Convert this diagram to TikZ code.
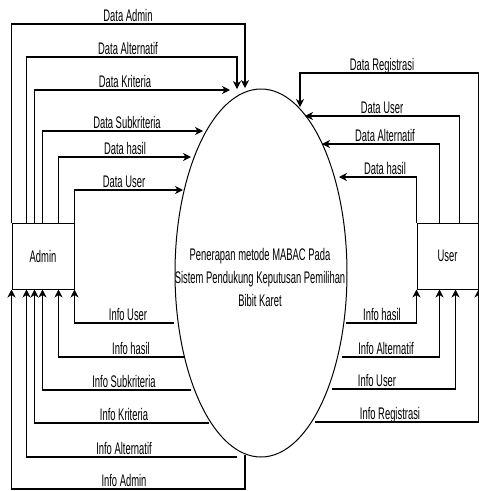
\documentclass[tikz,border=0pt]{standalone}
\usepackage{fontspec}
\setmainfont{Liberation Sans}[FakeStretch=0.56]
\usetikzlibrary{arrows.meta,shapes.geometric}
\begin{document}
\begin{tikzpicture}[x=1pt,y=-1pt,
  box/.style={draw, line width=1pt, minimum width=62pt, minimum height=66pt, inner sep=0pt, font=\fontsize{16.8}{20}\selectfont},
  proc/.style={draw, ellipse, line width=1pt, minimum width=172pt, minimum height=368pt, inner sep=0pt},
  flow/.style={draw, line width=1.1pt, -{Stealth[length=8pt,width=8pt,inset=2.5pt]}},
  lbl/.style={anchor=base, inner sep=0pt, font=\fontsize{16.8}{20}\selectfont}]
\useasboundingbox (0,0) rectangle (479,491);
\node[box] (admin) at (43,256) {Admin};
\node[box, minimum width=61pt] (user) at (447.5,256) {User};
\node[proc] (proc) at (261,273) {};
\node[align=center, inner sep=0pt, font=\fontsize{16.8}{23}\selectfont] (proctext) at (260,277)
  {Penerapan metode MABAC Pada\\Sistem Pendukung Keputusan Pemilihan\\Bibit Karet};
% Admin -> process
\draw[flow] (admin.north west) |- (245,24) -- (245,88);
\draw[flow] ([xshift=15pt]admin.north west) |- (237,57) -- (237,89);
\draw[flow] ([xshift=23pt]admin.north west) |- (230,90);
\draw[flow] ([xshift=31pt]admin.north west) |- (203,131);
\draw[flow] ([xshift=47pt]admin.north west) |- (191,157);
\draw[flow] (admin.north east) |- (183,190);
\node[lbl] (l1) at (128,21) {Data Admin};
\node[lbl] (l2) at (128,54) {Data Alternatif};
\node[lbl] (l3) at (125,87) {Data Kriteria};
\node[lbl] (l4) at (127,128) {Data Subkriteria};
\node[lbl] (l5) at (125,154) {Data hasil};
\node[lbl] (l6) at (124,187) {Data User};
% User -> process
\draw[flow] (user.north east) |- (300,73) -- (300,107);
\draw[flow] ([xshift=-19pt]user.north east) |- (305,116);
\draw[flow] ([xshift=23pt]user.north west) |- (322,144);
\draw[flow] (user.north west) |- (339,177);
\node[lbl] (r1) at (382,70) {Data Registrasi};
\node[lbl] (r2) at (382,113) {Data User};
\node[lbl] (r3) at (385,141) {Data Alternatif};
\node[lbl] (r4) at (385,174) {Data hasil};
% process -> Admin
\draw[flow] (174,323) -| (admin.south east);
\draw[flow] (184,357) -| ([xshift=47pt]admin.south west);
\draw[flow] (191,390) -| ([xshift=31pt]admin.south west);
\draw[flow] (209,423) -| ([xshift=23pt]admin.south west);
\draw[flow] (237,457) -| ([xshift=15pt]admin.south west);
\draw[flow] (245,455) -- (245,489) -| (admin.south west);
\node[lbl] (i1) at (128,320) {Info User};
\node[lbl] (i2) at (131,354) {Info hasil};
\node[lbl] (i3) at (124,387) {Info Subkriteria};
\node[lbl] (i4) at (124,420) {Info Kriteria};
\node[lbl] (i5) at (124,454) {Info Alternatif};
\node[lbl] (i6) at (124,486) {Info Admin};
% process -> User
\draw[flow] (346,323) -| (user.south west);
\draw[flow] (342,357) -| ([xshift=23pt]user.south west);
\draw[flow] (332,389) -| ([xshift=39pt]user.south west);
\draw[flow] (315,422) -| (user.south east);
\node[lbl] (j1) at (382,320) {Info hasil};
\node[lbl] (j2) at (386,354) {Info Alternatif};
\node[lbl] (j3) at (377,386) {Info User};
\node[lbl] (j4) at (390,419) {Info Registrasi};
\end{tikzpicture}
\end{document}
